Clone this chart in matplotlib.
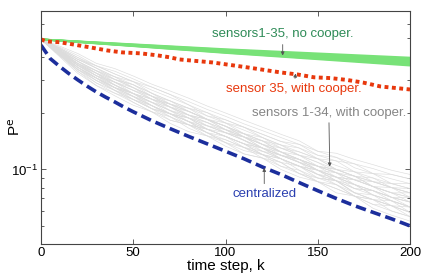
import matplotlib
matplotlib.use('Agg')
import matplotlib.pyplot as plt
from matplotlib.ticker import LogLocator, NullFormatter, FixedLocator

plt.rcParams['font.family'] = ['Liberation Sans', 'DejaVu Sans']
plt.rcParams['mathtext.default'] = 'regular'

# sensors 1-35 without cooperation (green band), values at k = 0, 100, 200
green_k = [0, 100, 200]
green_lines = [
    [0.494, 0.418, 0.358],
    [0.494, 0.420, 0.362],
    [0.494, 0.422, 0.366],
    [0.494, 0.424, 0.370],
    [0.494, 0.426, 0.374],
    [0.494, 0.428, 0.378],
    [0.494, 0.430, 0.382],
    [0.494, 0.432, 0.386],
    [0.494, 0.435, 0.390],
    [0.494, 0.438, 0.395],
]

# sensor 35 with cooperation
red_k = [0, 3, 10, 17, 27, 36, 44, 54, 63, 70, 75, 93, 112, 130, 139, 148,
         157, 166, 175, 184, 200]
red_vals = [0.494, 0.482, 0.477, 0.465, 0.447, 0.431, 0.421, 0.416, 0.406,
            0.396, 0.386, 0.372, 0.350, 0.329, 0.321, 0.310, 0.307, 0.300,
            0.290, 0.277, 0.267]

# centralized
blue_k = [0, 5, 10, 15, 20, 25, 30, 35, 40, 45, 50, 60, 70, 80, 90, 100,
          110, 120, 130, 140, 150, 160, 170, 180, 190, 200]
blue_vals = [0.460, 0.390, 0.355, 0.325, 0.300, 0.278, 0.259, 0.243, 0.229,
             0.215, 0.203, 0.182, 0.165, 0.150, 0.137, 0.125, 0.114, 0.103,
             0.094, 0.085, 0.077, 0.070, 0.064, 0.059, 0.0545, 0.050]

# sensors 1-34 with cooperation, k = 0, 10, ..., 200
gray_k = list(range(0, 201, 10))
gray_lines = [
    [0.494, 0.400, 0.325, 0.280, 0.247, 0.220, 0.203, 0.176, 0.159, 0.151, 0.133, 0.121, 0.115, 0.100, 0.091, 0.086, 0.075, 0.072, 0.062, 0.057, 0.053],
    [0.494, 0.405, 0.333, 0.280, 0.255, 0.228, 0.203, 0.191, 0.166, 0.151, 0.139, 0.121, 0.115, 0.104, 0.099, 0.086, 0.079, 0.072, 0.065, 0.064, 0.056],
    [0.494, 0.410, 0.333, 0.289, 0.264, 0.228, 0.203, 0.183, 0.173, 0.157, 0.139, 0.126, 0.120, 0.109, 0.095, 0.090, 0.083, 0.072, 0.069, 0.064, 0.059],
    [0.494, 0.416, 0.341, 0.298, 0.264, 0.236, 0.219, 0.191, 0.173, 0.151, 0.144, 0.131, 0.120, 0.114, 0.099, 0.090, 0.087, 0.075, 0.069, 0.068, 0.059],
    [0.494, 0.410, 0.350, 0.307, 0.264, 0.245, 0.219, 0.198, 0.173, 0.164, 0.150, 0.131, 0.125, 0.114, 0.104, 0.090, 0.087, 0.079, 0.073, 0.064, 0.063],
    [0.494, 0.421, 0.350, 0.307, 0.273, 0.254, 0.219, 0.198, 0.188, 0.164, 0.150, 0.137, 0.130, 0.114, 0.104, 0.099, 0.087, 0.079, 0.077, 0.068, 0.063],
    [0.494, 0.416, 0.359, 0.316, 0.273, 0.245, 0.228, 0.206, 0.180, 0.171, 0.157, 0.143, 0.125, 0.119, 0.109, 0.099, 0.091, 0.079, 0.077, 0.071, 0.067],
    [0.494, 0.427, 0.359, 0.316, 0.282, 0.254, 0.228, 0.215, 0.188, 0.171, 0.157, 0.149, 0.130, 0.119, 0.109, 0.099, 0.096, 0.083, 0.077, 0.071, 0.067],
    [0.494, 0.421, 0.367, 0.316, 0.292, 0.254, 0.237, 0.206, 0.195, 0.178, 0.157, 0.149, 0.136, 0.119, 0.113, 0.104, 0.091, 0.088, 0.081, 0.071, 0.071],
    [0.494, 0.432, 0.367, 0.326, 0.292, 0.264, 0.237, 0.215, 0.195, 0.171, 0.163, 0.149, 0.136, 0.124, 0.109, 0.104, 0.096, 0.088, 0.081, 0.075, 0.071],
    [0.494, 0.427, 0.367, 0.336, 0.292, 0.273, 0.237, 0.223, 0.195, 0.185, 0.170, 0.149, 0.142, 0.124, 0.119, 0.104, 0.100, 0.092, 0.081, 0.080, 0.075],
    [0.494, 0.432, 0.377, 0.326, 0.302, 0.273, 0.246, 0.215, 0.204, 0.185, 0.170, 0.155, 0.136, 0.130, 0.119, 0.109, 0.096, 0.092, 0.086, 0.080, 0.075],
    [0.494, 0.438, 0.377, 0.336, 0.302, 0.273, 0.246, 0.232, 0.204, 0.185, 0.177, 0.155, 0.142, 0.135, 0.119, 0.114, 0.100, 0.092, 0.090, 0.080, 0.079],
    [0.494, 0.438, 0.386, 0.347, 0.302, 0.283, 0.255, 0.223, 0.212, 0.193, 0.177, 0.162, 0.148, 0.130, 0.124, 0.114, 0.105, 0.097, 0.090, 0.084, 0.079],
    [0.494, 0.444, 0.386, 0.347, 0.312, 0.294, 0.255, 0.232, 0.212, 0.201, 0.177, 0.168, 0.148, 0.135, 0.130, 0.114, 0.111, 0.097, 0.095, 0.084, 0.084],
    [0.494, 0.444, 0.395, 0.357, 0.323, 0.294, 0.265, 0.242, 0.221, 0.193, 0.184, 0.168, 0.154, 0.141, 0.130, 0.119, 0.111, 0.107, 0.095, 0.089, 0.084],
    [0.494, 0.449, 0.405, 0.357, 0.334, 0.304, 0.275, 0.251, 0.230, 0.209, 0.192, 0.175, 0.161, 0.148, 0.136, 0.119, 0.116, 0.107, 0.101, 0.094, 0.089],
    [0.494, 0.455, 0.415, 0.368, 0.345, 0.315, 0.285, 0.262, 0.240, 0.218, 0.200, 0.183, 0.168, 0.154, 0.142, 0.125, 0.122, 0.113, 0.106, 0.099, 0.094],
    [0.494, 0.405, 0.341, 0.289, 0.255, 0.236, 0.211, 0.183, 0.173, 0.157, 0.139, 0.131, 0.115, 0.109, 0.095, 0.086, 0.083, 0.072, 0.065, 0.060, 0.056],
    [0.494, 0.410, 0.341, 0.307, 0.273, 0.236, 0.211, 0.198, 0.180, 0.157, 0.150, 0.137, 0.120, 0.114, 0.104, 0.094, 0.087, 0.075, 0.073, 0.068, 0.063],
    [0.494, 0.416, 0.350, 0.298, 0.273, 0.245, 0.219, 0.198, 0.188, 0.164, 0.150, 0.137, 0.125, 0.114, 0.104, 0.099, 0.087, 0.083, 0.073, 0.068, 0.063],
    [0.494, 0.421, 0.359, 0.326, 0.282, 0.254, 0.228, 0.206, 0.188, 0.171, 0.157, 0.143, 0.130, 0.119, 0.109, 0.094, 0.091, 0.083, 0.077, 0.071, 0.067],
    [0.494, 0.427, 0.367, 0.326, 0.292, 0.264, 0.246, 0.215, 0.195, 0.178, 0.163, 0.143, 0.130, 0.124, 0.113, 0.104, 0.096, 0.088, 0.081, 0.075, 0.075],
    [0.494, 0.432, 0.377, 0.336, 0.312, 0.273, 0.246, 0.223, 0.204, 0.185, 0.163, 0.155, 0.142, 0.130, 0.119, 0.109, 0.100, 0.097, 0.086, 0.080, 0.071],
    [0.494, 0.416, 0.350, 0.307, 0.273, 0.254, 0.228, 0.206, 0.188, 0.178, 0.163, 0.149, 0.130, 0.119, 0.113, 0.104, 0.096, 0.088, 0.086, 0.080, 0.075],
    [0.494, 0.432, 0.367, 0.326, 0.282, 0.254, 0.228, 0.198, 0.180, 0.164, 0.150, 0.137, 0.120, 0.109, 0.104, 0.094, 0.087, 0.075, 0.069, 0.064, 0.059],
    [0.494, 0.444, 0.395, 0.347, 0.312, 0.283, 0.246, 0.223, 0.204, 0.185, 0.163, 0.149, 0.136, 0.124, 0.113, 0.099, 0.091, 0.083, 0.077, 0.071, 0.063],
    [0.494, 0.410, 0.350, 0.307, 0.282, 0.254, 0.237, 0.215, 0.195, 0.185, 0.170, 0.155, 0.148, 0.135, 0.124, 0.114, 0.100, 0.092, 0.086, 0.084, 0.079],
    [0.494, 0.427, 0.359, 0.316, 0.282, 0.245, 0.219, 0.198, 0.180, 0.157, 0.144, 0.131, 0.120, 0.104, 0.095, 0.086, 0.079, 0.072, 0.069, 0.060, 0.056],
    [0.494, 0.421, 0.359, 0.316, 0.292, 0.264, 0.237, 0.223, 0.204, 0.185, 0.170, 0.149, 0.136, 0.124, 0.113, 0.099, 0.091, 0.083, 0.073, 0.068, 0.063],
    [0.494, 0.438, 0.386, 0.357, 0.323, 0.294, 0.275, 0.251, 0.221, 0.201, 0.184, 0.168, 0.154, 0.141, 0.136, 0.125, 0.116, 0.102, 0.095, 0.094, 0.089],
    [0.494, 0.421, 0.359, 0.307, 0.273, 0.245, 0.211, 0.191, 0.173, 0.164, 0.150, 0.137, 0.130, 0.119, 0.109, 0.099, 0.091, 0.088, 0.081, 0.075, 0.067],
    [0.494, 0.427, 0.377, 0.336, 0.302, 0.283, 0.255, 0.232, 0.212, 0.185, 0.170, 0.155, 0.142, 0.124, 0.113, 0.104, 0.100, 0.092, 0.081, 0.075, 0.071],
    [0.494, 0.416, 0.341, 0.298, 0.264, 0.236, 0.211, 0.198, 0.180, 0.164, 0.157, 0.143, 0.130, 0.114, 0.104, 0.094, 0.083, 0.075, 0.069, 0.064, 0.059],
]

fig = plt.figure(figsize=(4.29, 2.77), dpi=100)
ax = fig.add_axes([0.0956, 0.1191, 0.8601, 0.8412])

for vals in gray_lines:
    ax.plot(gray_k, vals, color='#dcdcdc', lw=0.45)
for vals in green_lines:
    ax.plot(green_k, vals, color='#78e278', lw=1.3)
ax.plot(red_k, red_vals, color='#e8380d', lw=2.8,
        linestyle=(0, (1, 0.9)), dash_capstyle='butt')
ax.plot(blue_k, blue_vals, color='#1c2e9c', lw=2.6,
        linestyle=(0, (2.9, 1.4)), dash_capstyle='butt')

ax.set_yscale('log')
ax.set_xlim(0, 200)
ax.set_ylim(0.04, 0.7)
ax.xaxis.set_major_locator(FixedLocator([0, 50, 100, 150, 200]))
ax.yaxis.set_major_locator(LogLocator(base=10))
ax.yaxis.set_minor_locator(LogLocator(base=10, subs=range(2, 10)))
ax.yaxis.set_minor_formatter(NullFormatter())

ax.tick_params(which='both', direction='in', top=True, right=True,
               color='#444444', labelsize=9.5, pad=2)
ax.tick_params(which='major', length=3.5, width=0.6)
ax.tick_params(which='minor', length=2.2, width=0.6)
for sp in ax.spines.values():
    sp.set_color('#444444')
    sp.set_linewidth(0.8)

ax.set_xlabel('time step, k', fontsize=11, labelpad=0)
# y label placed by hand, left of the 10^-1 tick label
fig.text(15 / 429, 1 - 127 / 277, r'P$^{\mathrm{e}}$', fontsize=11,
         rotation=90, ha='center', va='center')

arrow = dict(arrowstyle='-|>', color='#555555', lw=0.6, mutation_scale=5,
             shrinkA=1, shrinkB=0)
ax.annotate('sensors1-35, no cooper.', xy=(131, 0.405), xytext=(131, 0.525),
            color='#2e8b57', fontsize=9.5, ha='center', va='center',
            arrowprops=arrow)
ax.annotate('sensor 35, with cooper.', xy=(138, 0.325), xytext=(137, 0.270),
            color='#e8380d', fontsize=9.5, ha='center', va='center',
            arrowprops=arrow)
ax.annotate('sensors 1-34, with cooper.', xy=(156.5, 0.1035), xytext=(156, 0.201),
            color='#858585', fontsize=9.5, ha='center', va='center',
            arrowprops=arrow)
ax.annotate('centralized', xy=(121, 0.102), xytext=(121, 0.0741),
            color='#2a3fb0', fontsize=9.5, ha='center', va='center',
            arrowprops=arrow)

fig.savefig('out.png', dpi=100)
